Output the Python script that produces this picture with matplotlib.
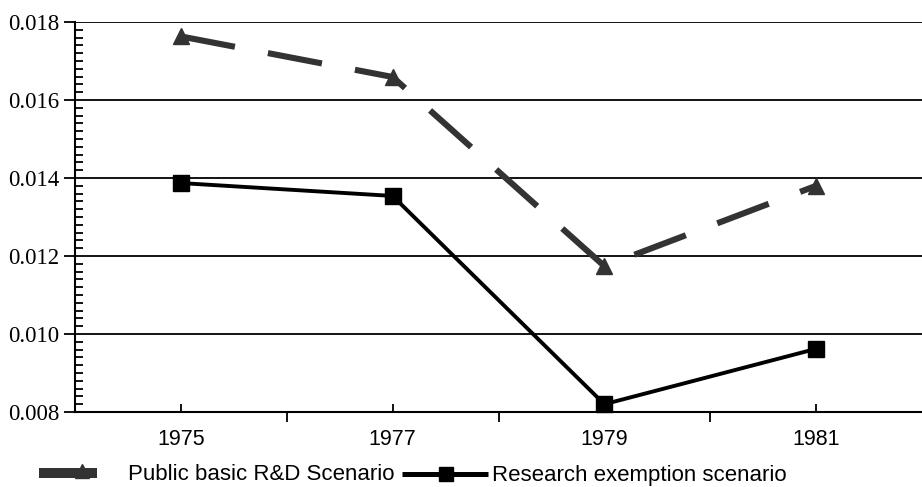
import matplotlib
matplotlib.use("Agg")
import matplotlib.pyplot as plt
from matplotlib.lines import Line2D
from matplotlib.ticker import MultipleLocator, FixedLocator

# ── 数据 ─────────────────────────────────────────────
years = [1975, 1977, 1979, 1981]
public_basic = [0.01763, 0.01659, 0.01174, 0.01380]
research_exemption = [0.01387, 0.01354, 0.00820, 0.00962]
series_labels = ["Public basic R&D Scenario", "Research exemption scenario"]

DARK = "#333333"
W, H = 922, 487


def px(x, y):
    """像素坐标（左上为原点）→ figure 坐标。"""
    return x / W, 1 - y / H


fig = plt.figure(figsize=(W / 100, H / 100), dpi=100)
ax = fig.add_axes([75 / W, 1 - 412 / H, 1 - 75 / W, 390 / H])

ax.plot(years, public_basic, color=DARK, lw=4.4, linestyle=(0, (9, 5.5)),
        marker="^", markersize=12, dash_capstyle="butt",
        zorder=3, clip_on=False)
ax.plot(years, research_exemption, color="black", lw=2.8, marker="s",
        markersize=12, zorder=4, clip_on=False)

ax.set_xlim(1974, 1982)
ax.set_ylim(0.008, 0.018)

# 网格线
for v in [0.010, 0.012, 0.014, 0.016, 0.018]:
    ax.axhline(v, color="black", lw=1.3, zorder=1)

for s in ["top", "right"]:
    ax.spines[s].set_visible(False)
for s in ["left", "bottom"]:
    ax.spines[s].set_linewidth(1.5)

# y 轴刻度
ax.yaxis.set_major_locator(MultipleLocator(0.002))
ax.yaxis.set_minor_locator(MultipleLocator(0.0002))
ax.set_yticklabels([f"{v:.3f}" for v in ax.get_yticks()],
                   fontfamily="Liberation Serif", fontsize=16.5)
ax.tick_params(axis="y", which="major", direction="out", length=8, width=1.3, pad=3)
ax.tick_params(axis="y", which="minor", direction="in", length=6, width=1.3)

# x 轴刻度
ax.xaxis.set_major_locator(FixedLocator(years))
ax.xaxis.set_minor_locator(FixedLocator([1976, 1978, 1980]))
ax.set_xticklabels([str(y) for y in years], fontfamily="Liberation Sans", fontsize=15.5)
ax.tick_params(axis="x", which="major", direction="in", length=6, width=1.3, pad=12)
ax.tick_params(axis="x", which="minor", direction="out", length=7, width=1.3)

# ── 图例（手动摆放） ──
x0, y0 = px(39, 473)
x1, _ = px(97, 473)
fig.add_artist(Line2D([x0, x1], [y0, y0], color=DARK, lw=7.2,
                      solid_capstyle="butt", transform=fig.transFigure))
mx, my = px(82, 471)
fig.add_artist(Line2D([mx], [my], color=DARK, marker="^", markersize=10,
                      transform=fig.transFigure))
fig.text(*px(128, 475), series_labels[0], ha="left", va="center",
         fontfamily="Liberation Sans", fontsize=16)

x0, y0 = px(402, 474)
x1, _ = px(488, 474)
fig.add_artist(Line2D([x0, x1], [y0, y0], color="black", lw=3.6,
                      solid_capstyle="butt", transform=fig.transFigure))
mx, my = px(446, 474)
fig.add_artist(Line2D([mx], [my], color="black", marker="s", markersize=10,
                      transform=fig.transFigure))
fig.text(*px(492, 475), series_labels[1], ha="left", va="center",
         fontfamily="Liberation Sans", fontsize=16)

fig.savefig("out.png", dpi=100)
